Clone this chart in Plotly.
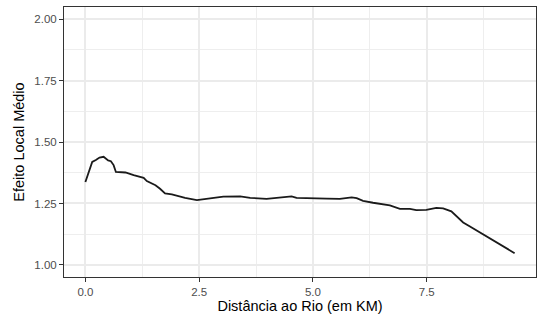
import plotly.graph_objects as go

dist_km = [0.00, 0.07, 0.15, 0.23, 0.31, 0.40, 0.45, 0.50, 0.56, 0.62, 0.67, 0.88, 1.06, 1.17,
           1.28, 1.35, 1.54, 1.64, 1.75, 1.90, 2.19, 2.45, 2.67, 3.03, 3.40, 3.62, 3.98, 4.35,
           4.53, 4.64, 5.08, 5.30, 5.59, 5.85, 5.96, 6.10, 6.32, 6.69, 6.91, 7.13, 7.27, 7.49,
           7.71, 7.86, 8.04, 8.30, 8.44, 9.43]
efeito = [1.337, 1.376, 1.419, 1.427, 1.437, 1.440, 1.433, 1.425, 1.422, 1.406, 1.378, 1.376,
          1.365, 1.359, 1.354, 1.341, 1.324, 1.310, 1.291, 1.287, 1.273, 1.264, 1.269, 1.278,
          1.279, 1.273, 1.269, 1.275, 1.279, 1.273, 1.269, 1.270, 1.269, 1.275, 1.272, 1.261,
          1.253, 1.242, 1.228, 1.228, 1.223, 1.224, 1.232, 1.230, 1.218, 1.173, 1.157, 1.048]

x_ticks = [0.0, 2.5, 5.0, 7.5]
y_ticks = [1.00, 1.25, 1.50, 1.75, 2.00]

fig = go.Figure()
fig.add_trace(go.Scatter(x=dist_km, y=efeito, mode="lines",
                         line=dict(color="#1a1a1a", width=1.8), showlegend=False))

font_family = "Liberation Sans, Arial, sans-serif"
axis_common = dict(
    showline=True, mirror=True, linecolor="#333333", linewidth=1,
    ticks="outside", ticklen=4, tickcolor="#333333", tickwidth=1,
    showgrid=True, gridcolor="#EBEBEB", gridwidth=1.5,
    zeroline=False,
    tickfont=dict(family=font_family, size=11.5, color="#4D4D4D"),
)

fig.update_layout(
    width=537, height=323,
    margin=dict(l=64, r=1, t=7, b=46),
    paper_bgcolor="white", plot_bgcolor="white",
    font=dict(family=font_family),
    xaxis=dict(
        **axis_common,
        range=[-0.47, 9.90], tickvals=x_ticks, tickformat=".1f",
        minor=dict(dtick=1.25, tick0=0, showgrid=True, gridcolor="#EEEEEE", gridwidth=0.8, ticks=""),
        title=dict(text="Distância ao Rio (em KM)", standoff=4,
                   font=dict(family=font_family, size=14.5, color="black")),
    ),
    yaxis=dict(
        **axis_common,
        range=[0.951, 2.049], tickvals=y_ticks, tickformat=".2f",
        minor=dict(dtick=0.125, tick0=1.0, showgrid=True, gridcolor="#EEEEEE", gridwidth=0.8, ticks=""),
        title=dict(text="Efeito Local Médio", standoff=6,
                   font=dict(family=font_family, size=14.5, color="black")),
    ),
)

fig.write_html("out.html")
